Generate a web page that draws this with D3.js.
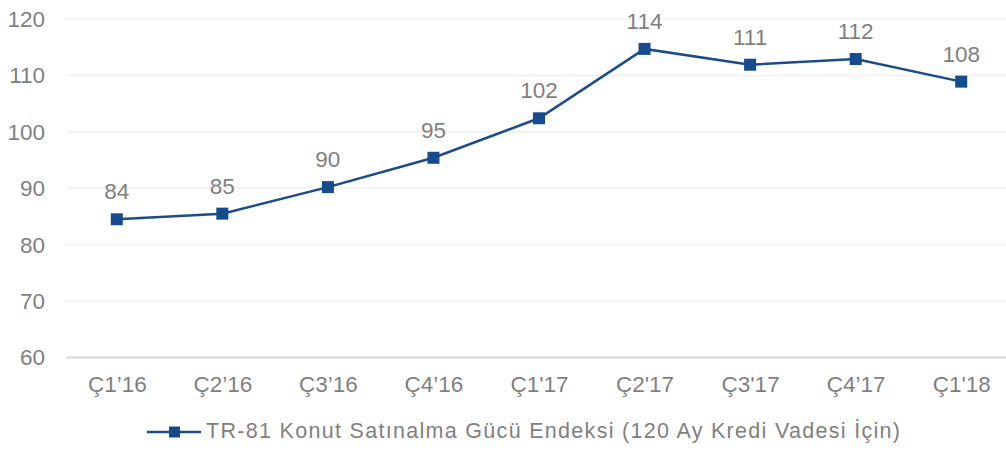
<!DOCTYPE html>
<html>
<head>
<meta charset="utf-8">
<script src="https://cdn.jsdelivr.net/npm/d3@7"></script>
<style>
  body { margin: 0; background: #fff; }
  svg text { font-family: "Liberation Sans", Arial, Helvetica, sans-serif; fill: #7f7f7f; }
</style>
</head>
<body>
<div id="chart"></div>
<script>
var quarters = ['Ç1’16', 'Ç2’16', 'Ç3’16', 'Ç4’16', 'Ç1\'17', 'Ç2\'17', 'Ç3\'17', 'Ç4’17', 'Ç1\'18'];
var indexValues = [84.5, 85.5, 90.2, 95.4, 102.4, 114.7, 111.9, 112.9, 108.9];
var yTicks = [60, 70, 80, 90, 100, 110, 120];
var seriesName = 'TR-81 Konut Satınalma Gücü Endeksi (120 Ay Kredi Vadesi İçin)';

function drawChart() {
  var width = 1006, height = 450;
  var fontSize = 22.5;
  var svg = d3.select('#chart').append('svg')
    .attr('width', width)
    .attr('height', height);

  var xScale = d3.scalePoint()
    .domain(quarters)
    .range([64, 1014])
    .padding(0.5);

  var yScale = d3.scaleLinear()
    .domain([60, 120])
    .range([357.5, 19]);

  // grid lines
  svg.append('g').selectAll('line')
    .data(yTicks)
    .enter().append('line')
      .attr('x1', 66)
      .attr('x2', width)
      .attr('y1', function(d) { return yScale(d); })
      .attr('y2', function(d) { return yScale(d); })
      .attr('stroke', function(d) { return d === 60 ? '#d9d9d9' : '#f0f0f0'; })
      .attr('stroke-width', function(d) { return d === 60 ? 2 : 1.5; });

  var yAxis = svg.append('g')
    .attr('transform', 'translate(45,0)')
    .call(d3.axisLeft(yScale).tickValues(yTicks).tickSize(0).tickPadding(0));
  yAxis.select('.domain').remove();
  yAxis.selectAll('text')
    .attr('font-size', fontSize)
    .attr('fill', '#7f7f7f')
    .style('font-family', '"Liberation Sans", Arial, sans-serif')
    .attr('dy', '0.33em');

  var xAxis = svg.append('g')
    .attr('transform', 'translate(0,' + 357.5 + ')')
    .call(d3.axisBottom(xScale).tickSize(0).tickPadding(0));
  xAxis.select('.domain').remove();
  xAxis.selectAll('text')
    .attr('font-size', fontSize)
    .attr('fill', '#7f7f7f')
    .style('font-family', '"Liberation Sans", Arial, sans-serif')
    .attr('y', 34.5)
    .attr('dy', 0);

  var line = d3.line()
    .x(function(d, i) { return xScale(quarters[i]); })
    .y(function(d) { return yScale(d); });

  svg.append('path')
    .datum(indexValues)
    .attr('d', line)
    .attr('fill', 'none')
    .attr('stroke', '#1b4c89')
    .attr('stroke-width', 2.5);

  var size = 12;
  svg.append('g').selectAll('rect')
    .data(indexValues)
    .enter().append('rect')
      .attr('x', function(d, i) { return xScale(quarters[i]) - size / 2; })
      .attr('y', function(d) { return yScale(d) - size / 2; })
      .attr('width', size)
      .attr('height', size)
      .attr('fill', '#174b8b');

  svg.append('g').selectAll('text')
    .data(indexValues)
    .enter().append('text')
      .attr('x', function(d, i) { return xScale(quarters[i]); })
      .attr('y', function(d) { return yScale(d) - 20; })
      .attr('text-anchor', 'middle')
      .attr('font-size', fontSize)
      .text(function(d) { return Math.floor(d); });

  // legend
  var legend = svg.append('g').attr('transform', 'translate(147,432)');
  legend.append('line')
    .attr('x1', 0).attr('x2', 54)
    .attr('y1', 0).attr('y2', 0)
    .attr('stroke', '#1b4c89')
    .attr('stroke-width', 2.5);
  legend.append('rect')
    .attr('x', 22).attr('y', -5.5)
    .attr('width', 11).attr('height', 11)
    .attr('fill', '#174b8b');
  legend.append('text')
    .attr('x', 59)
    .attr('y', 6)
    .attr('font-size', 21.5)
    .attr('textLength', 694)
    .attr('lengthAdjust', 'spacing')
    .text(seriesName);
}

drawChart();
</script>
</body>
</html>
